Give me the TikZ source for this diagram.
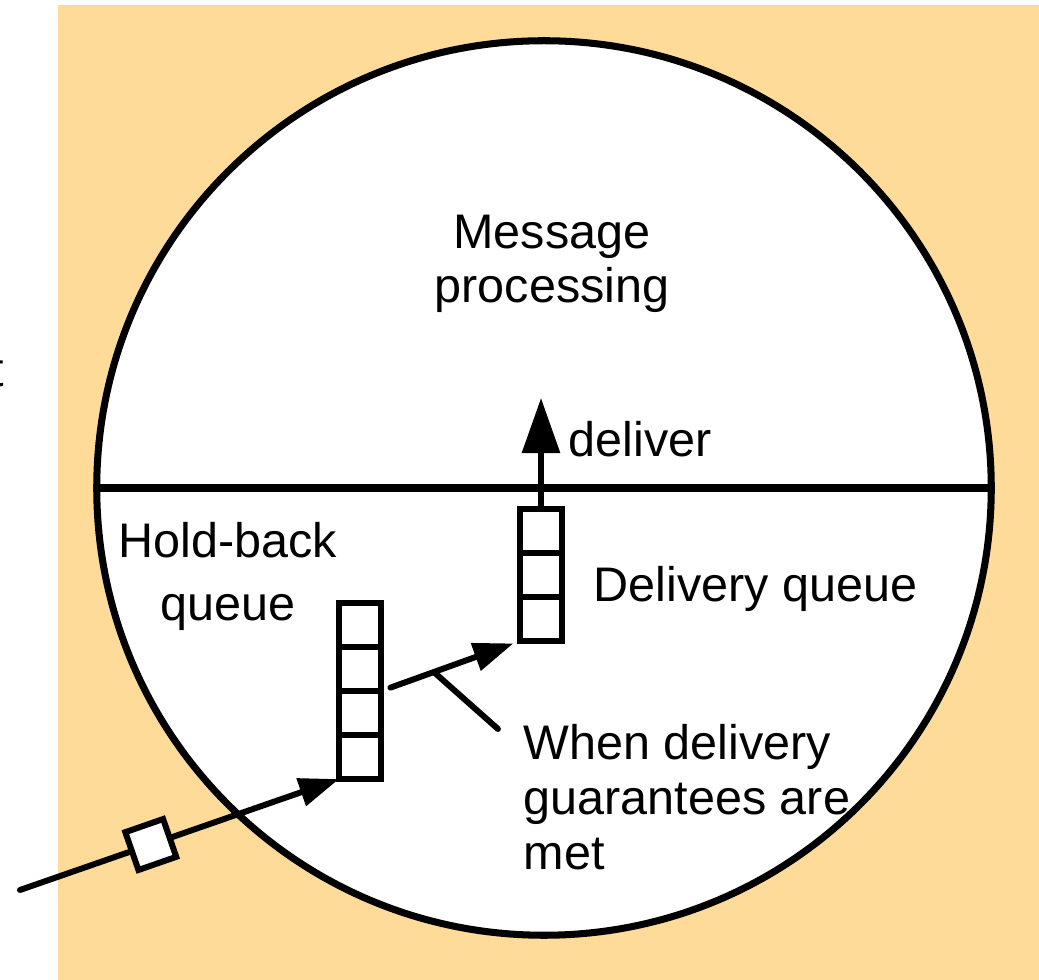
\documentclass[tikz,border=0pt]{standalone}
\usepackage{fontspec}
\setmainfont{Liberation Sans}
\usepackage{xcolor}
\usetikzlibrary{
  positioning,
  arrows.meta,
  calc
}
\definecolor{bgorange}{RGB}{254,219,153}

\begin{document}
\begin{tikzpicture}[
  x=0.01cm, y=-0.01cm,
  every node/.style={font=\fontsize{13.8}{15.6}\selectfont, inner sep=0pt},
  cell/.style={draw, rectangle, fill=white, line width=1.7pt, minimum width=0.42cm, minimum height=0.44cm, outer sep=0pt},
  packet/.style={draw, rectangle, fill=white, line width=1.7pt, minimum size=0.4cm},
  border/.style={line width=2pt},
  arrow/.style={line width=1.7pt, line cap=round, -{Triangle[length=0.4cm, width=0.28cm]}},
  bigarrow/.style={line width=1.7pt, -{Triangle[length=0.55cm, width=0.37cm]}}
]

% Background
\useasboundingbox (0,0) rectangle (1039,980);
\fill[bgorange] (58,5) rectangle (1039,980);

% Process
\node[draw, circle, border, fill=white, minimum size=8.94cm] (proc) at (544,488) {};
\draw[border] (proc.west) -- (proc.east);

% Queues
\node[cell] (hb1) at (360,625) {};
\node[cell, below=0pt of hb1] (hb2) {};
\node[cell, below=0pt of hb2] (hb3) {};
\node[cell, below=0pt of hb3] (hb4) {};
\node[cell] (dq1) at (541,531) {};
\node[cell, below=0pt of dq1] (dq2) {};
\node[cell, below=0pt of dq2] (dq3) {};

% Labels
\node[align=center, anchor=north] (title) at (552,214) {Message\\processing};
\node[align=center, anchor=north] (holdlbl) at (228,522) {Hold-back\\[0.08cm]queue};
\node[anchor=base west] (deliverlbl) at (568,457) {deliver};
\node[anchor=base west] (dqlbl) at (593,602) {Delivery queue};
\node[align=left, anchor=north west] (cond) at (523,724) {When delivery\\guarantees are\\met};
\node[anchor=base east] (cut) at (5,387) {t};

% Arrows
\coordinate (src) at (20,890);
\coordinate (up) at (541,398);
\draw[bigarrow] (dq1.north) -- (up);
\draw[arrow, shorten <=0.1cm, shorten >=0.07cm] (hb2.south east) -- coordinate[pos=0.38] (hint) (dq3.south west);
\draw[line width=1.7pt, line cap=round] (hint) -- ([xshift=-0.25cm, yshift=-0.05cm]cond.north west);
\draw[arrow] (src) -- node[packet, sloped, pos=0.41] (msg) {} (hb4.south west);

\end{tikzpicture}
\end{document}
